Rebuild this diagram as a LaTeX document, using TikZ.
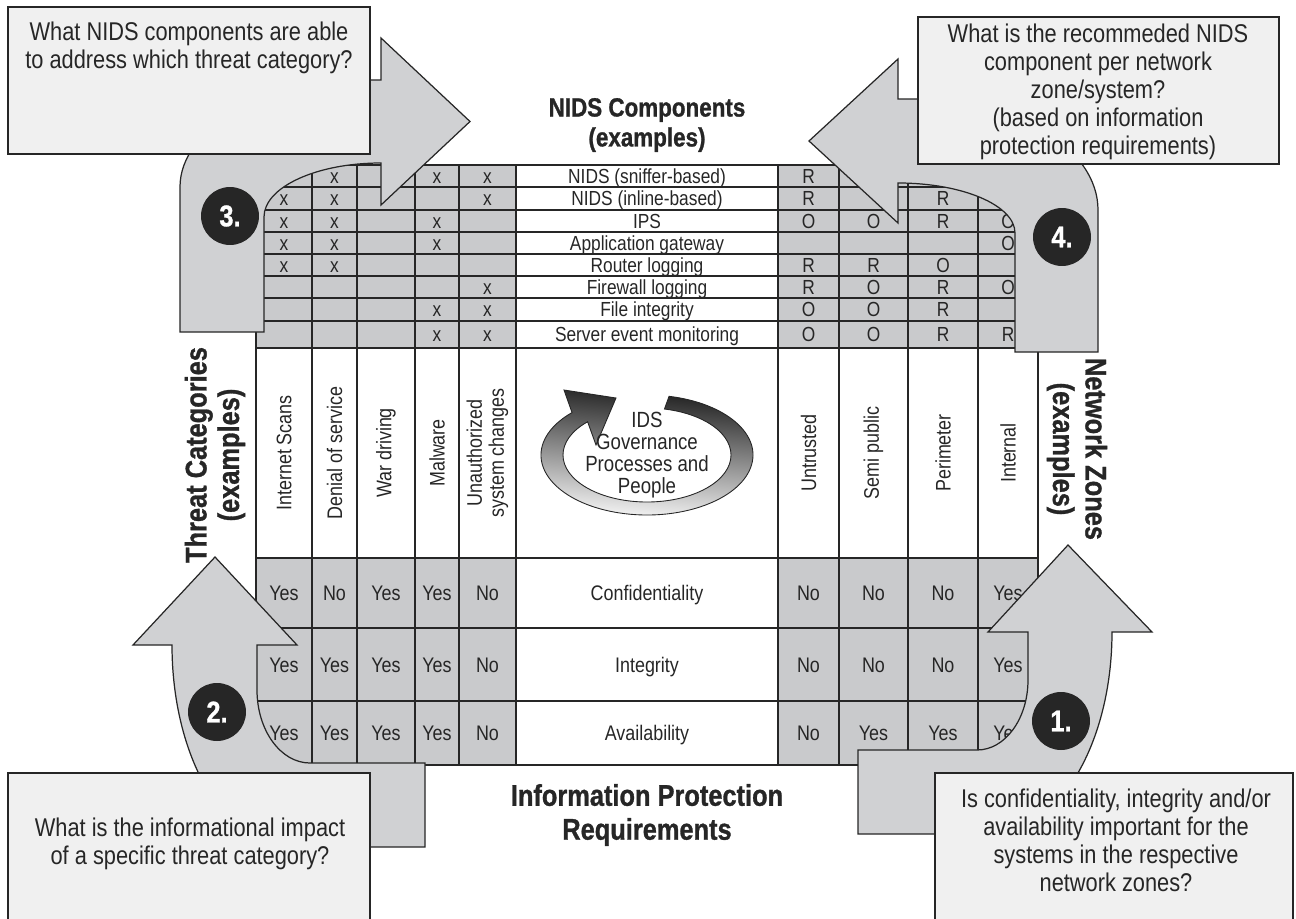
\documentclass[tikz,border=0pt]{standalone}
\usepackage{fontspec}
\setmainfont{Liberation Sans}[FakeStretch=0.85, BoldFeatures={FakeBold=1}]
\usetikzlibrary{shapes,arrows,calc,positioning}

\definecolor{cellgray}{HTML}{C9CACC}
\definecolor{bandgray}{HTML}{D0D1D3}
\definecolor{boxgray}{HTML}{F0F0F0}
\definecolor{ink}{HTML}{262626}

\def\cellx{{284,334.5,386,437,487.5,808.5,873.5,943,1008}}

\tikzset{
  gridline/.style={draw=ink, line width=0.7pt},
  band/.style={fill=bandgray, draw=ink, line width=0.7pt},
  question/.style={fill=boxgray, draw=ink, line width=0.8pt},
  qtext/.style={align=center, text=ink, font=\fontsize{14.6}{15.9}\selectfont},
  celltext/.style={inner sep=0pt, text=ink, text height=8.3pt, text depth=0pt, font=\fontsize{11.6}{12}\selectfont},
  ynbox/.style={celltext, text height=8.6pt, font=\fontsize{12}{12}\selectfont},
  colhead/.style={rotate=90, align=center, inner sep=0pt, text=ink, font=\fontsize{12}{12.5}\selectfont},
  head/.style={align=center, text=ink, font=\bfseries\fontsize{17}{18.5}\selectfont},
  numdot/.style={circle, fill=ink, text=white, minimum size=33pt, inner sep=0pt, font=\bfseries\fontsize{17}{17}\selectfont},
}

\begin{document}
\begin{tikzpicture}[x=0.2mm,y=0.2mm]
  \useasboundingbox (0,0) rectangle (1296,-919);
  \clip (0,0) rectangle (1296,-919);

  % shaded parts of the matrix
  \fill[cellgray] (256,-165) rectangle (516,-348);
  \fill[cellgray] (778,-165) rectangle (1038,-348);
  \fill[cellgray] (256,-558) rectangle (516,-765);
  \fill[cellgray] (778,-558) rectangle (1038,-765);

  \foreach \y in {165,187,210,232,254,276,298,321,348,558,628,701,765}
    \draw[gridline] (256,-\y) -- (1038,-\y);
  \foreach \x in {256,312,357,415,459,516,778,839,908,978,1038}
    \draw[gridline] (\x,-165) -- (\x,-765);

  % components
  \foreach \r/\y/\name/\vals in {
      1/176/{NIDS (sniffer-based)}/{x,x,x,x,x,R,{},{},{}},
      2/198.5/{NIDS (inline-based)}/{x,x,{},{},x,R,{},R,{}},
      3/221/IPS/{x,x,{},x,{},O,O,R,O},
      4/243/{Application gateway}/{x,x,{},x,{},{},{},{},O},
      5/265/{Router logging}/{x,x,{},{},{},R,R,O,{}},
      6/287/{Firewall logging}/{{},{},{},{},x,R,O,R,O},
      7/309.5/{File integrity}/{{},{},{},x,x,O,O,R,{}},
      8/334.5/{Server event monitoring}/{{},{},{},x,x,O,O,R,R}}
  {
    \node[celltext] (comp-\r) at (647,-\y) {\name};
    \foreach \v [count=\c] in \vals {
      \pgfmathsetmacro\cx{\cellx[\c-1]}
      \node[celltext] (comp-\r-\c) at (\cx,-\y) {\v};
    }
  }

  % threat categories and network zones
  \foreach \c/\lbl in {1/{Internet Scans},2/{Denial of service},3/{War driving},
      4/Malware,5/{Unauthorized\\system changes},6/Untrusted,7/{Semi public},
      8/Perimeter,9/Internal}
  {
    \pgfmathsetmacro\cx{\cellx[\c-1]}
    \node[colhead] (lbl-\c) at (\cx,-453) {\lbl};
  }

  % protection requirements
  \foreach \r/\y/\name/\vals in {
      1/593/Confidentiality/{Yes,No,Yes,Yes,No,No,No,No,Yes},
      2/664.5/Integrity/{Yes,Yes,Yes,Yes,No,No,No,No,Yes},
      3/733/Availability/{Yes,Yes,Yes,Yes,No,No,Yes,Yes,Yes}}
  {
    \node[ynbox] (cia-\r) at (647,-\y) {\name};
    \foreach \v [count=\c] in \vals {
      \pgfmathsetmacro\cx{\cellx[\c-1]}
      \node[ynbox] (cia-\r-\c) at (\cx,-\y) {\v};
    }
  }

  % governance cycle
  \coordinate (ring) at (647,-455);
  \draw[top color=black!90, middle color=black!45, bottom color=white, shading angle=-5, draw=ink, line width=0.5pt]
    ($(ring)+(78:106 and 60)$) arc[start angle=78, end angle=-225, x radius=106, y radius=60]
    -- (564,-390) -- (616,-398) -- (596,-445)
    -- ($(ring)+(135:84 and 47)$) arc[start angle=135, end angle=438, x radius=84, y radius=47]
    -- cycle;
  \node[align=center, text=ink, font=\fontsize{12.5}{12.5}\selectfont] (gov) at (ring)
    {IDS\\Governance\\Processes and\\People};

  \node[head, font=\bfseries\fontsize{15}{17}\selectfont] (hnids) at (647,-125) {NIDS Components\\(examples)};
  \node[head, font=\bfseries\fontsize{17}{19.3}\selectfont] (hreq) at (647,-815) {Information Protection\\Requirements};
  \node[head, rotate=90] (hthreat) at (215,-455) {Threat Categories\\(examples)};
  \node[head, rotate=-90] (hzone) at (1077,-449) {Network Zones\\(examples)};

  % bent arrows
  \draw[band] (180,-332) -- (180,-187)
    arc[start angle=180, end angle=90, x radius=190, y radius=107]
    -- (381,-80) -- (381,-38) -- (470,-121.5) -- (381,-205) -- (381,-163)
    arc[start angle=90, end angle=180, x radius=117, y radius=54]
    -- (264,-332) -- cycle;
  \draw[band] (1098,-352) -- (1098,-210)
    arc[start angle=0, end angle=90, x radius=180, y radius=111]
    -- (898,-99) -- (898,-59) -- (809,-141) -- (898,-223) -- (898,-183)
    arc[start angle=90, end angle=0, x radius=117, y radius=50]
    -- (1015,-352) -- cycle;
  \draw[band] (257,-645) -- (297,-645) -- (215,-557) -- (133,-645) -- (172,-645)
    arc[start angle=180, end angle=270, x radius=117, y radius=202]
    -- (425,-847) -- (425,-763) -- (310,-763)
    arc[start angle=270, end angle=180, x radius=53, y radius=73]
    -- cycle;
  \draw[band] (1028,-632) -- (988,-632) -- (1068,-545) -- (1152,-632) -- (1112,-632)
    arc[start angle=0, end angle=-90, x radius=120, y radius=202]
    -- (858,-834) -- (858,-750) -- (977,-750)
    arc[start angle=-90, end angle=0, x radius=51, y radius=70]
    -- cycle;

  \node[numdot] (n1) at (1061,-721) {1.};
  \node[numdot] (n2) at (217,-712) {2.};
  \node[numdot] (n3) at (230,-216) {3.};
  \node[numdot] (n4) at (1062,-237) {4.};

  % questions
  \path[question] (8,-7) rectangle (370,-154);
  \node[qtext] (q3) at (189,-48) {What NIDS components are able\\to address which threat category?};
  \path[question] (918,-17) rectangle (1279,-164);
  \node[qtext] (q4) at (1098,-92) {What is the recommeded NIDS\\component per network\\zone/system?\\(based on information\\protection requirements)};
  \path[question] (8,-773) rectangle (370,-960);
  \node[qtext] (q2) at (190,-844) {What is the informational impact\\of a specific threat category?};
  \path[question] (935,-773) rectangle (1293,-960);
  \node[qtext] (q1) at (1116,-840) {Is confidentiality, integrity and/or\\availability important for the\\systems in the respective\\network zones?};
\end{tikzpicture}
\end{document}
